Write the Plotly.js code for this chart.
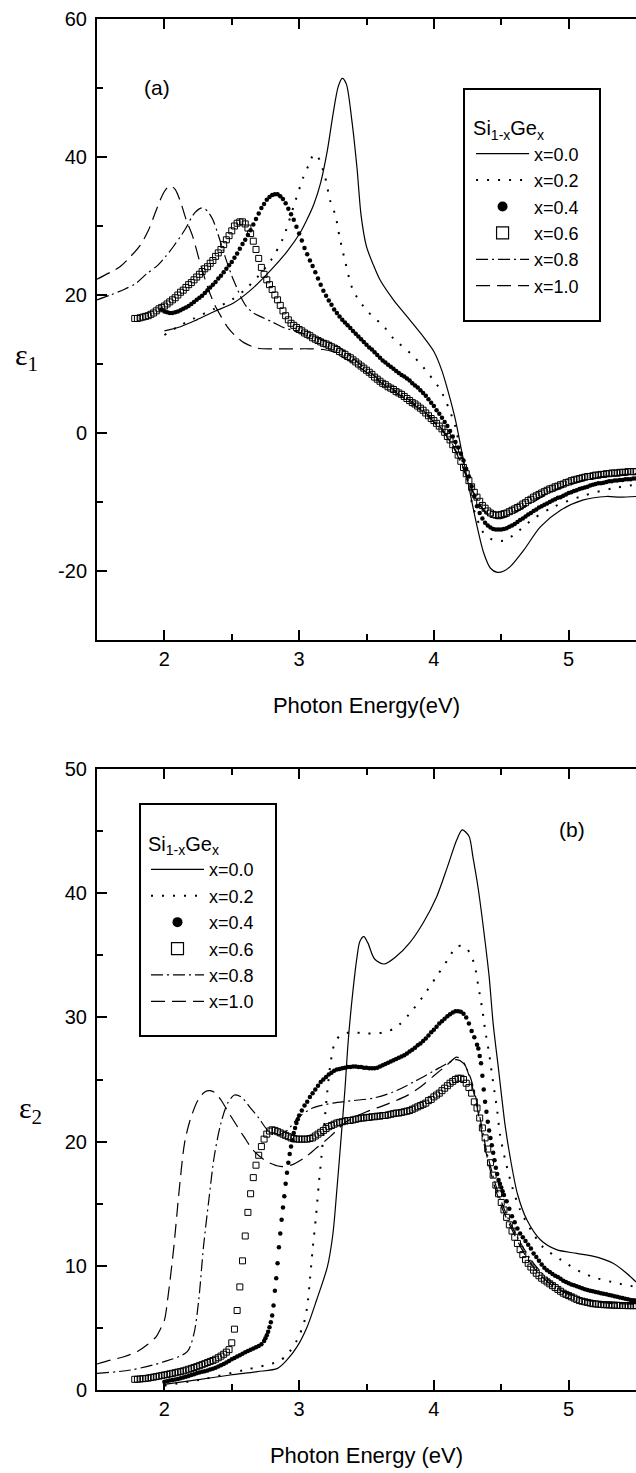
<!DOCTYPE html>
<html><head><meta charset="utf-8">
<script src="https://cdn.plot.ly/plotly-3.0.1.min.js"></script>
<style>html,body{margin:0;padding:0;background:#fff;overflow:hidden}</style>
</head><body><div id="chart" style="width:636px;height:1473px"></div>
<script>
// ---------- labels ----------
const seriesNames = ['x=0.0','x=0.2','x=0.4','x=0.6','x=0.8','x=1.0'];
const legendTitle = 'Si<sub>1-x</sub>Ge<sub>x</sub>';
const eps1Ticks = [-20, 0, 20, 40, 60];
const eps1TickText = ['-20', '0', '20', '40', '60'];
const eps2Ticks = [0, 10, 20, 30, 40, 50];
const eps2TickText = ['0', '10', '20', '30', '40', '50'];

// ---------- panel (a): epsilon 1 ----------
const a00_E = [2.00,2.12,2.24,2.37,2.51,2.64,2.79,2.91,3.01,3.06,3.11,3.16,3.21,3.25,3.29,3.32,3.35,3.39,3.43,3.46,3.50,3.55,3.60,3.70,3.80,3.92,4.00,4.06,4.11,4.16,4.21,4.26,4.31,4.37,4.42,4.47,4.52,4.57,4.67,4.79,4.94,5.11,5.28,5.38,5.50];
const a00_e = [14.8,15.4,16.4,17.6,18.8,20.7,23.6,26.3,29.1,31.0,33.2,36.3,41.0,46.0,50.2,51.4,50.6,45.5,38.3,31.5,27.0,24.4,22.2,19.3,16.9,14.0,11.8,9.0,5.7,1.9,-3.0,-7.8,-12.6,-17.4,-19.6,-20.2,-20.0,-19.3,-16.9,-13.6,-11.2,-9.7,-9.2,-9.3,-9.2];

const a02_E = [2.00,2.10,2.22,2.37,2.50,2.60,2.70,2.79,2.88,2.97,3.03,3.07,3.11,3.14,3.19,3.23,3.27,3.30,3.34,3.40,3.50,3.63,3.70,3.84,3.96,4.05,4.11,4.16,4.20,4.25,4.29,4.37,4.44,4.52,4.59,4.74,4.89,5.09,5.33,5.50];
const a02_e = [14.2,15.4,16.6,18.0,19.3,20.8,22.8,25.0,28.2,33.5,37.0,38.8,40.4,40.0,37.3,33.7,31.5,28.4,25.0,20.7,17.8,15.4,13.7,11.3,8.6,6.2,3.6,0.9,-3.0,-6.8,-10.7,-14.5,-15.5,-15.6,-14.8,-12.4,-10.7,-9.2,-8.0,-7.5];

// x=0.4 : first energy and step of the measured grid
const a04_E0 = 1.98, a04_dE = 0.02;
const a04_e = [17.9,17.6,17.5,17.4,17.4,17.5,17.6,17.8,18.0,18.2,18.4,18.7,19.0,19.3,19.6,19.9,20.3,20.7,21.1,21.5,21.9,22.4,22.8,23.3,23.8,24.3,24.8,25.4,26.0,26.7,27.4,28.0,28.7,29.4,30.2,31.0,31.8,32.6,33.2,33.8,34.2,34.5,34.6,34.6,34.3,33.9,33.3,32.5,31.7,30.9,29.9,28.9,27.9,26.8,25.9,25.0,24.2,23.3,22.4,21.5,20.6,19.9,19.2,18.6,17.9,17.4,16.9,16.4,16.0,15.6,15.2,14.8,14.4,14.0,13.6,13.2,12.8,12.4,12.1,11.7,11.3,10.9,10.5,10.2,9.9,9.6,9.3,9.0,8.7,8.4,8.2,7.9,7.6,7.2,6.9,6.6,6.2,5.8,5.4,4.9,4.4,3.9,3.3,2.8,2.2,1.6,1.0,0.3,-0.5,-1.3,-2.1,-3.0,-4.0,-5.2,-6.3,-7.7,-9.2,-10.6,-11.6,-12.4,-13.0,-13.4,-13.7,-13.9,-14.0,-14.0,-14.0,-13.9,-13.8,-13.6,-13.4,-13.2,-12.9,-12.6,-12.4,-12.1,-11.8,-11.6,-11.3,-11.1,-10.8,-10.6,-10.4,-10.2,-10.0,-9.8,-9.6,-9.4,-9.3,-9.1,-8.9,-8.7,-8.6,-8.4,-8.3,-8.1,-8.0,-7.9,-7.8,-7.6,-7.5,-7.4,-7.3,-7.3,-7.2,-7.1,-7.0,-7.0,-6.9,-6.9,-6.8,-6.8,-6.7,-6.7,-6.7,-6.6,-6.6];

// x=0.6
const a06_E0 = 1.78, a06_dE = 0.02;
const a06_e = [16.6,16.6,16.7,16.8,16.9,17.0,17.2,17.4,17.7,18.0,18.2,18.4,18.7,19.0,19.3,19.6,20.0,20.4,20.7,21.1,21.5,21.8,22.2,22.6,23.0,23.4,23.8,24.1,24.6,25.0,25.6,26.1,26.6,27.3,28.0,28.6,29.3,30.0,30.4,30.6,30.6,30.3,29.7,28.9,27.8,26.6,25.3,24.0,23.0,22.2,21.5,20.8,20.0,19.3,18.5,17.7,17.0,16.4,15.9,15.6,15.3,15.0,14.8,14.5,14.3,14.1,13.8,13.6,13.4,13.2,13.0,12.9,12.7,12.5,12.3,12.1,11.8,11.6,11.4,11.1,10.9,10.6,10.3,10.0,9.7,9.4,9.1,8.8,8.5,8.1,7.8,7.5,7.2,7.0,6.7,6.5,6.3,6.0,5.8,5.6,5.3,5.0,4.7,4.4,4.2,3.9,3.6,3.3,2.9,2.5,2.1,1.8,1.4,1.0,0.6,0.1,-0.5,-1.0,-1.7,-2.4,-3.2,-4.1,-5.0,-5.9,-6.9,-7.8,-8.6,-9.3,-9.9,-10.5,-10.9,-11.3,-11.6,-11.8,-11.9,-11.9,-11.8,-11.7,-11.6,-11.4,-11.2,-11.0,-10.8,-10.6,-10.3,-10.1,-9.8,-9.6,-9.3,-9.1,-8.9,-8.7,-8.5,-8.3,-8.1,-8.0,-7.8,-7.7,-7.5,-7.4,-7.2,-7.1,-6.9,-6.8,-6.7,-6.6,-6.5,-6.4,-6.3,-6.3,-6.2,-6.1,-6.1,-6.0,-6.0,-5.9,-5.9,-5.8,-5.8,-5.8,-5.7,-5.7,-5.7,-5.6,-5.6,-5.6,-5.6];

const a08_E = [1.50,1.60,1.70,1.79,1.87,1.95,2.01,2.07,2.12,2.16,2.20,2.23,2.27,2.30,2.33,2.36,2.40,2.45,2.50,2.53,2.57,2.61,2.66,2.71,2.80,2.87,2.98,3.10,3.20,3.30,3.40,3.50,3.60,3.70,3.80,3.90,4.00,4.08,4.14,4.20,4.26,4.32,4.38,4.44,4.50,4.58,4.68,4.80,4.94,5.08,5.22,5.36,5.50];
const a08_e = [19.3,20.0,20.8,21.7,23.1,24.3,25.6,27.1,28.5,29.7,31.2,32.0,32.6,32.5,31.9,30.9,28.7,25.6,22.8,21.4,19.6,18.3,17.4,16.9,16.1,15.4,14.7,14.0,13.3,12.4,10.8,9.2,7.6,6.3,5.0,3.6,1.8,0.1,-1.7,-4.1,-7.1,-9.6,-11.4,-12.2,-12.3,-11.7,-10.6,-9.2,-7.9,-7.0,-6.4,-6.1,-5.9];

const a10_E = [1.50,1.60,1.67,1.75,1.82,1.88,1.93,1.97,2.00,2.03,2.05,2.08,2.12,2.16,2.21,2.26,2.32,2.37,2.42,2.47,2.52,2.59,2.69,2.80,2.95,3.08,3.18,3.25,3.32,3.40,3.50,3.60,3.70,3.80,3.90,4.00,4.08,4.14,4.20,4.26,4.32,4.38,4.44,4.50,4.58,4.68,4.80,4.94,5.08,5.22,5.36,5.50];
const a10_e = [22.3,23.3,24.1,25.6,27.2,29.3,31.8,33.8,35.0,35.7,35.8,35.3,33.5,31.0,28.5,25.0,21.2,18.7,16.9,15.3,14.2,13.1,12.3,12.2,12.2,12.2,12.1,11.8,11.0,10.2,8.8,7.4,6.1,4.8,3.4,1.6,-0.1,-1.9,-4.3,-7.3,-9.8,-11.5,-12.3,-12.4,-11.8,-10.7,-9.3,-8.0,-7.1,-6.5,-6.2,-6.0];

// ---------- panel (b): epsilon 2 ----------
const b00_E = [2.00,2.24,2.49,2.69,2.84,2.91,2.985,3.06,3.13,3.21,3.25,3.28,3.31,3.34,3.365,3.40,3.43,3.45,3.48,3.51,3.56,3.63,3.72,3.82,3.92,4.02,4.10,4.17,4.21,4.26,4.29,4.33,4.37,4.41,4.44,4.48,4.50,4.53,4.57,4.62,4.69,4.79,4.91,5.06,5.21,5.33,5.43,5.50];
const b00_e = [0.46,0.81,1.21,1.48,1.74,2.42,3.49,5.1,7.25,9.93,12.5,16.1,20.1,24.2,28.2,32.2,34.9,36.1,36.5,36.0,34.7,34.3,34.9,36.0,37.6,39.7,42.1,44.3,45.1,44.6,42.9,40.3,37.0,33.3,29.5,25.8,23.9,21.2,18.5,15.8,13.7,12.1,11.3,11.0,10.7,10.2,9.4,8.7];

const b02_E = [2.00,2.30,2.59,2.84,2.91,2.985,3.035,3.06,3.08,3.10,3.125,3.146,3.166,3.183,3.208,3.233,3.26,3.30,3.38,3.50,3.63,3.72,3.82,3.92,4.02,4.10,4.17,4.23,4.28,4.31,4.33,4.36,4.38,4.41,4.43,4.45,4.47,4.49,4.53,4.58,4.64,4.72,4.81,4.94,5.09,5.21,5.36,5.50];
const b02_e = [0.35,0.9,1.6,2.28,2.82,4.03,5.37,6.71,8.86,11.3,13.96,16.6,18.8,20.9,23.9,26.3,27.8,28.5,28.8,28.7,28.8,29.2,30.3,31.7,33.3,34.6,35.7,35.7,34.9,33.8,32.5,30.6,29.0,27.1,25.5,24.0,22.5,20.6,18.5,16.4,14.5,12.9,11.5,10.5,9.5,9.0,8.6,8.3];

const b04_E = [2.00,2.02,2.04,2.06,2.08,2.10,2.12,2.14,2.16,2.18,2.20,2.22,2.24,2.26,2.28,2.30,2.32,2.34,2.36,2.38,2.40,2.42,2.44,2.46,2.48,2.50,2.52,2.54,2.56,2.58,2.60,2.62,2.64,2.66,2.68,2.70,2.72,2.74,
 2.75,2.76,2.77,2.78,2.79,2.80,2.81,2.82,2.83,2.84,2.85,2.86,2.87,2.88,2.89,2.90,2.91,2.92,2.93,2.94,2.95,2.96,2.97,2.98,2.99,
 3.00,3.02,3.04,3.06,3.08,3.10,3.12,3.14,3.16,3.18,3.20,3.22,3.24,3.26,3.28,3.30,3.32,3.34,3.36,3.38,3.40,3.42,3.44,3.46,3.48,3.50,3.52,3.54,3.56,3.58,3.60,3.62,3.64,3.66,3.68,3.70,3.72,3.74,3.76,3.78,3.80,3.82,3.84,3.86,3.88,3.90,3.92,3.94,3.96,3.98,4.00,4.02,4.04,4.06,4.08,4.10,4.12,4.14,4.16,4.18,4.20,4.22,4.24,4.26,4.28,4.30,4.32,
 4.33,4.34,4.35,4.36,4.37,4.38,4.39,4.40,4.41,4.42,4.43,4.44,4.45,4.46,4.47,4.48,4.49,4.50,4.51,4.52,
 4.54,4.56,4.58,4.60,4.62,4.64,4.66,4.68,4.70,4.72,4.74,4.76,4.78,4.80,4.82,4.84,4.86,4.88,4.90,4.92,4.94,4.96,4.98,5.00,5.02,5.04,5.06,5.08,5.10,5.12,5.14,5.16,5.18,5.20,5.22,5.24,5.26,5.28,5.30,5.32,5.34,5.36,5.38,5.40,5.42,5.44,5.46,5.48,5.50];
const b04_e = [0.67,0.71,0.76,0.80,0.85,0.89,0.94,1.00,1.06,1.13,1.20,1.27,1.34,1.40,1.46,1.52,1.58,1.65,1.72,1.80,1.90,2.00,2.10,2.22,2.34,2.47,2.58,2.69,2.80,2.92,3.04,3.14,3.24,3.34,3.44,3.55,3.68,3.95,
 4.16,4.40,4.70,5.05,5.45,6.00,6.80,8.00,9.00,10.2,11.5,12.6,13.7,14.7,15.6,16.6,17.5,18.3,19.0,19.6,20.1,20.7,21.1,21.5,21.8,
 22.1,22.5,22.9,23.2,23.6,23.9,24.2,24.5,24.8,25.0,25.2,25.4,25.55,25.7,25.8,25.85,25.9,25.95,26.0,26.0,26.05,26.05,26.0,26.0,25.95,25.95,25.9,25.9,25.9,25.95,26.05,26.15,26.25,26.35,26.45,26.55,26.65,26.75,26.85,26.95,27.1,27.25,27.4,27.55,27.75,27.9,28.1,28.3,28.55,28.8,29.0,29.25,29.5,29.7,29.9,30.1,30.25,30.4,30.5,30.5,30.45,30.3,30.0,29.5,28.9,28.4,27.8,
 27.5,26.9,26.3,25.3,24.2,23.2,22.4,21.6,20.9,20.3,19.7,19.1,18.5,17.9,17.4,16.9,16.6,16.3,16.0,15.7,
 15.2,14.6,14.0,13.5,13.0,12.6,12.3,12.0,11.7,11.4,11.0,10.7,10.4,10.1,9.85,9.65,9.5,9.35,9.2,9.1,8.95,8.8,8.7,8.6,8.5,8.43,8.35,8.27,8.2,8.12,8.05,8.0,7.95,7.9,7.85,7.8,7.75,7.7,7.65,7.6,7.55,7.5,7.45,7.4,7.35,7.3,7.25,7.22,7.2];

const b06_E0 = 1.78, b06_dE = 0.02;
const b06_e = [0.86,0.87,0.89,0.91,0.93,0.96,1.00,1.04,1.08,1.12,1.17,1.21,1.25,1.30,1.34,1.39,1.44,1.48,1.54,1.60,1.67,1.74,1.81,1.88,1.96,2.04,2.12,2.21,2.30,2.38,2.48,2.60,2.73,2.88,3.05,3.25,3.80,4.90,6.40,8.30,10.4,12.4,14.3,15.8,17.1,18.1,18.9,19.6,20.2,20.6,20.85,20.95,20.9,20.8,20.7,20.6,20.5,20.4,20.3,20.25,20.2,20.2,20.2,20.2,20.2,20.25,20.3,20.45,20.6,20.75,20.9,21.05,21.2,21.3,21.4,21.5,21.55,21.6,21.65,21.7,21.7,21.75,21.8,21.85,21.9,21.9,21.95,21.95,22.0,22.0,22.05,22.05,22.1,22.1,22.15,22.2,22.25,22.3,22.3,22.35,22.4,22.45,22.5,22.6,22.7,22.8,22.9,23.0,23.1,23.3,23.4,23.6,23.75,23.9,24.1,24.3,24.5,24.7,24.85,25.0,25.1,25.1,25.0,24.7,24.35,23.9,23.2,22.7,21.9,21.1,20.3,19.4,18.3,17.3,16.5,15.8,15.1,14.5,13.9,13.3,12.8,12.3,11.8,11.3,10.9,10.5,10.2,9.9,9.65,9.4,9.2,9.0,8.85,8.7,8.55,8.4,8.25,8.1,7.95,7.8,7.7,7.6,7.5,7.4,7.3,7.2,7.15,7.1,7.05,7.0,6.95,6.93,6.91,6.89,6.87,6.86,6.85,6.84,6.83,6.82,6.81,6.80,6.80,6.79,6.79,6.79,6.79];

const b08_E = [1.50,1.75,2.00,2.17,2.22,2.255,2.29,2.33,2.37,2.42,2.47,2.52,2.57,2.64,2.70,2.76,2.82,2.90,3.00,3.10,3.25,3.40,3.55,3.70,3.85,4.00,4.10,4.17,4.22,4.27,4.31,4.35,4.39,4.43,4.47,4.51,4.56,4.64,4.74,4.86,4.98,5.12,5.28,5.50];
const b08_e = [1.34,1.61,2.28,3.09,4.56,7.25,11.5,15.3,18.8,21.5,23.1,23.75,23.6,22.7,21.9,21.0,20.5,20.8,22.0,22.7,23.1,23.3,23.5,24.0,24.8,25.7,26.3,26.6,26.3,25.2,23.6,21.5,19.3,17.6,16.1,14.9,13.6,11.9,10.2,8.8,7.9,7.3,7.05,6.95];

const b10_E = [1.50,1.60,1.70,1.80,1.87,1.94,1.97,2.00,2.03,2.07,2.11,2.15,2.19,2.25,2.30,2.34,2.38,2.42,2.49,2.59,2.66,2.76,2.86,2.94,3.04,3.13,3.23,3.35,3.50,3.65,3.80,3.90,4.00,4.10,4.17,4.22,4.27,4.32,4.36,4.40,4.44,4.48,4.52,4.58,4.66,4.76,4.88,5.00,5.15,5.30,5.50];
const b10_e = [2.09,2.4,2.68,3.1,3.62,4.3,4.9,5.6,7.78,11.5,16.1,19.9,21.7,23.35,24.0,24.1,23.9,23.35,22.1,20.4,19.3,18.4,18.0,18.1,18.7,19.5,20.4,21.6,22.4,23.0,23.7,24.4,25.3,26.2,26.8,26.4,25.0,22.8,20.5,18.5,16.8,15.4,14.3,12.9,11.2,9.6,8.4,7.7,7.2,7.0,6.9];

// ---------- styles ----------
const FONT = 'Liberation Sans, Arial, Helvetica, sans-serif';
const SERIF = 'Liberation Serif, Times New Roman, serif';
const LINESTYLE = {
  'x=0.0': {dash: 'solid', width: 1.2},
  'x=0.2': {dash: '2px,9px', width: 2},
  'x=0.8': {dash: '12px,4px,2px,4px', width: 1.2},
  'x=1.0': {dash: '14px,7px', width: 1.2}
};
const CIRCLE = {symbol: 'circle', size: 4.5, color: 'black'};
const SQUARE = {symbol: 'square-open', size: 6, color: 'black', line: {width: 1, color: 'black'}};

function lineTrace(name, x, y, xa, ya, leg, rank) {
  const s = LINESTYLE[name];
  return {type: 'scatter', mode: 'lines', name: name, x: x, y: y, xaxis: xa, yaxis: ya,
    legend: leg, legendrank: rank,
    line: {color: 'black', width: s.width, dash: s.dash, shape: 'spline', smoothing: 0.8}};
}
function markerTrace(name, x, y, marker, xa, ya, extra) {
  return Object.assign({type: 'scatter', mode: 'markers', name: name, y: y, xaxis: xa, yaxis: ya,
    showlegend: false, marker: marker, cliponaxis: true}, x ? {x: x} : {}, extra || {});
}
function legendOnly(name, marker, xa, ya, leg, rank) {
  return {type: 'scatter', mode: 'markers', name: name, x: [null], y: [null], xaxis: xa, yaxis: ya,
    legend: leg, legendrank: rank, marker: marker};
}
const LEG_CIRCLE = {symbol: 'circle', size: 10, color: 'black'};
const LEG_SQUARE = {symbol: 'square-open', size: 12, color: 'black', line: {width: 1.2, color: 'black'}};

const data = [
  // panel (a)
  lineTrace(seriesNames[0], a00_E, a00_e, 'x', 'y', 'legend', 1),
  lineTrace(seriesNames[1], a02_E, a02_e, 'x', 'y', 'legend', 2),
  markerTrace(seriesNames[2], null, a04_e, CIRCLE, 'x', 'y', {x0: a04_E0, dx: a04_dE}),
  markerTrace(seriesNames[3], null, a06_e, SQUARE, 'x', 'y', {x0: a06_E0, dx: a06_dE}),
  lineTrace(seriesNames[4], a08_E, a08_e, 'x', 'y', 'legend', 5),
  lineTrace(seriesNames[5], a10_E, a10_e, 'x', 'y', 'legend', 6),
  legendOnly(seriesNames[2], LEG_CIRCLE, 'x', 'y', 'legend', 3),
  legendOnly(seriesNames[3], LEG_SQUARE, 'x', 'y', 'legend', 4),
  // panel (b)
  lineTrace(seriesNames[0], b00_E, b00_e, 'x2', 'y2', 'legend2', 1),
  lineTrace(seriesNames[1], b02_E, b02_e, 'x2', 'y2', 'legend2', 2),
  markerTrace(seriesNames[2], b04_E, b04_e, CIRCLE, 'x2', 'y2'),
  markerTrace(seriesNames[3], null, b06_e, SQUARE, 'x2', 'y2', {x0: b06_E0, dx: b06_dE}),
  lineTrace(seriesNames[4], b08_E, b08_e, 'x2', 'y2', 'legend2', 5),
  lineTrace(seriesNames[5], b10_E, b10_e, 'x2', 'y2', 'legend2', 6),
  legendOnly(seriesNames[2], LEG_CIRCLE, 'x2', 'y2', 'legend2', 3),
  legendOnly(seriesNames[3], LEG_SQUARE, 'x2', 'y2', 'legend2', 4)
];

function xAxis(title, anchor) {
  return {anchor: anchor, domain: [0, 1], range: [1.5, 5.5], tick0: 0, dtick: 1,
    ticks: 'inside', ticklen: 10, tickwidth: 1.5, tickcolor: 'black',
    showline: true, linewidth: 2, linecolor: 'black', mirror: 'ticks',
    minor: {dtick: 0.5, ticks: 'inside', ticklen: 6, tickwidth: 1.5, tickcolor: 'black'},
    showgrid: false, zeroline: false, ticklabelstandoff: 0,
    tickfont: {family: FONT, size: 20, color: 'black'},
    title: {text: title, font: {family: FONT, size: 22, color: 'black'}, standoff: 29}};
}
function yAxis(domain, range, dtick, vals, texts, anchor) {
  return {anchor: anchor, domain: domain, range: range, tickmode: 'array', tickvals: vals, ticktext: texts,
    ticks: 'inside', ticklen: 10, tickwidth: 1.5, tickcolor: 'black',
    showline: true, linewidth: 2, linecolor: 'black', mirror: false,
    minor: {tick0: 0, dtick: dtick / 2, ticks: 'inside', ticklen: 6, tickwidth: 1.5, tickcolor: 'black'},
    showgrid: false, zeroline: false, ticklabelstandoff: 4,
    tickfont: {family: FONT, size: 20, color: 'black'}};
}
function legendBox(x, y) {
  return {x: x, y: y, xref: 'paper', yref: 'paper', xanchor: 'left', yanchor: 'top',
    bgcolor: 'rgba(0,0,0,0)', borderwidth: 0, itemwidth: 53, tracegroupgap: 0,
    traceorder: 'normal', itemclick: false, itemdoubleclick: false,
    font: {family: FONT, size: 18, color: 'black'},
    title: {text: legendTitle, font: {family: FONT, size: 20, color: 'black'}}};
}

const layout = {
  width: 636, height: 1473,
  margin: {l: 97, r: 0, t: 19, b: 83, pad: 0},
  paper_bgcolor: 'white', plot_bgcolor: 'white',
  font: {family: FONT, size: 19, color: 'black'},
  showlegend: true,
  xaxis: xAxis('Photon Energy(eV)', 'y'),
  yaxis: yAxis([0.54705, 1], [-30, 60], 20, eps1Ticks, eps1TickText, 'x'),
  xaxis2: xAxis('Photon Energy (eV)', 'y2'),
  yaxis2: yAxis([0, 0.45295], [0, 50], 10, eps2Ticks, eps2TickText, 'x2'),
  legend: legendBox(0.694, 0.934),
  legend2: legendBox(0.0909, 0.412),
  shapes: [
    {type: 'rect', xref: 'x domain', yref: 'y domain', x0: 0.6809, x1: 0.9332, y0: 0.5137, y1: 0.8873,
     line: {color: 'black', width: 2}, fillcolor: 'rgba(0,0,0,0)', layer: 'above'},
    {type: 'rect', xref: 'x2 domain', yref: 'y2 domain', x0: 0.0798, x1: 0.3321, y0: 0.570, y1: 0.9436,
     line: {color: 'black', width: 2}, fillcolor: 'rgba(0,0,0,0)', layer: 'above'}
  ],
  annotations: [
    {text: '(a)', xref: 'x domain', yref: 'y domain', x: 0.111, y: 0.889, xanchor: 'center', yanchor: 'middle',
     showarrow: false, font: {family: FONT, size: 21, color: 'black'}},
    {text: '(b)', xref: 'x2 domain', yref: 'y2 domain', x: 0.881, y: 0.902, xanchor: 'center', yanchor: 'middle',
     showarrow: false, font: {family: FONT, size: 21, color: 'black'}},
    {text: 'ε<sub>1</sub>', xref: 'paper', yref: 'paper', x: -0.13, y: 0.7535, xanchor: 'center', yanchor: 'middle',
     showarrow: false, font: {family: SERIF, size: 30, color: 'black'}},
    {text: 'ε<sub>2</sub>', xref: 'paper', yref: 'paper', x: -0.124, y: 0.2042, xanchor: 'center', yanchor: 'middle',
     showarrow: false, font: {family: SERIF, size: 30, color: 'black'}}
  ]
};

Plotly.newPlot('chart', data, layout, {displayModeBar: false, responsive: false});
</script></body></html>
